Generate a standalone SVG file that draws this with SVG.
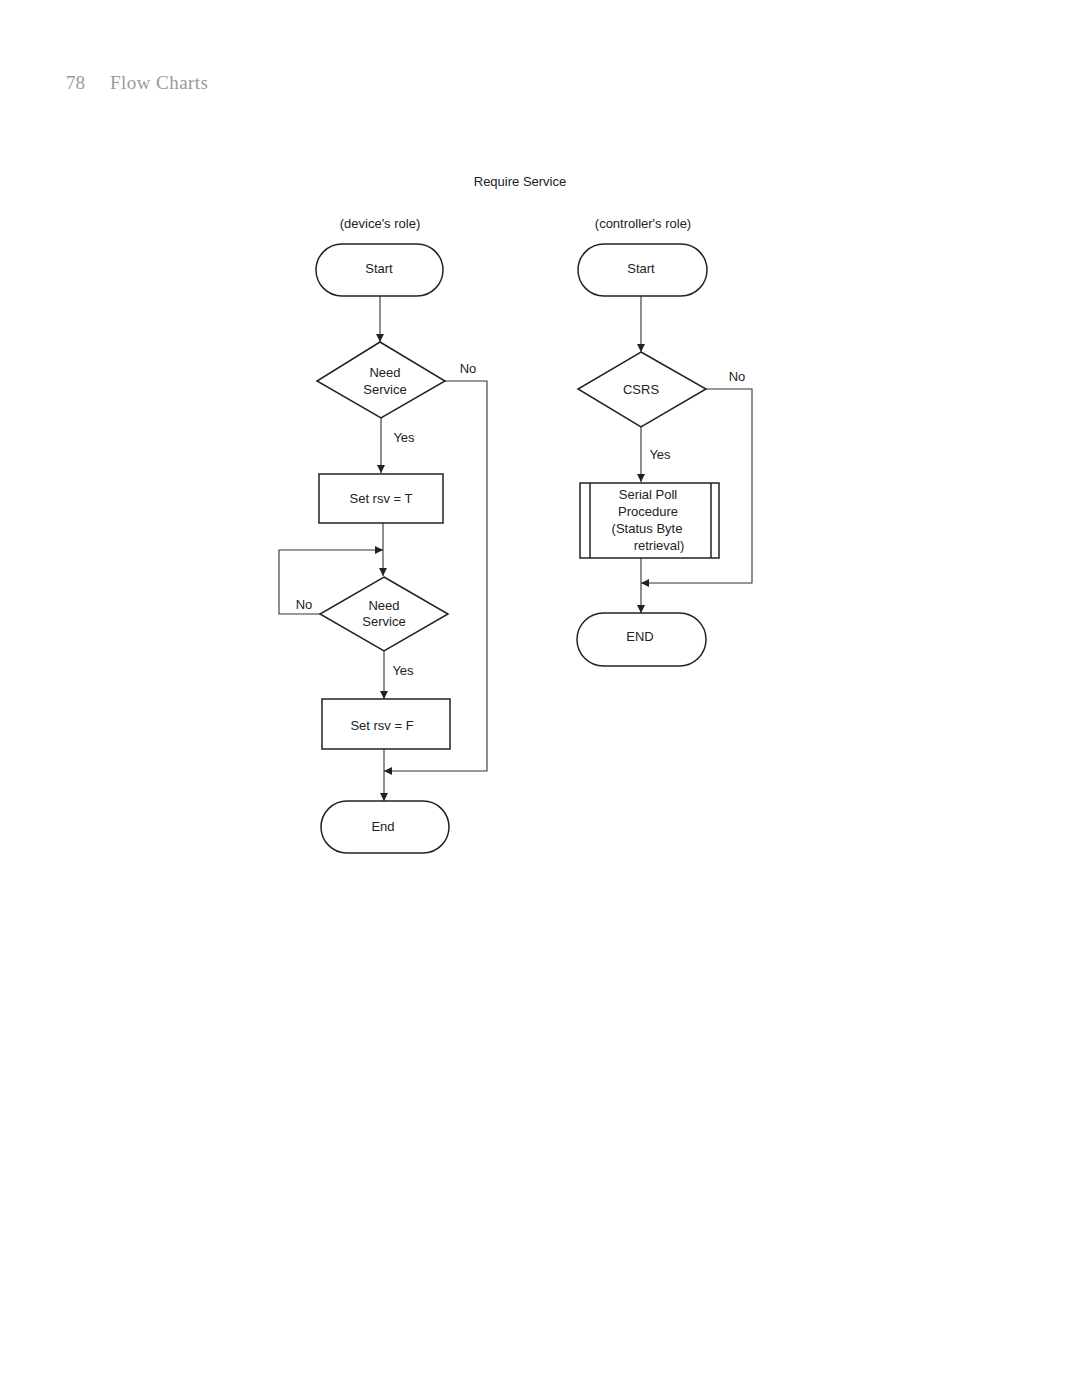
<svg xmlns="http://www.w3.org/2000/svg" width="1080" height="1399" viewBox="0 0 1080 1399">
<style>
.s{fill:#fff;stroke:#222;stroke-width:1.5}
.c{fill:none;stroke:#333;stroke-width:1.1}
text{font-family:"Liberation Sans",Arial,sans-serif;font-size:13px;fill:#222;text-anchor:middle}
.hd{font-family:"Liberation Serif","Times New Roman",serif;font-size:19px;fill:#9a9a9a;text-anchor:start}
</style>
<defs>
<marker id="a" viewBox="0 0 10 10" refX="10" refY="5" markerWidth="8" markerHeight="8" markerUnits="userSpaceOnUse" orient="auto">
<path d="M0,0 L10,5 L0,10 z" fill="#222"/>
</marker>
</defs>
<rect width="1080" height="1399" fill="#fff"/>
<text class="hd" x="66" y="89">78</text>
<text class="hd" x="110" y="89" textLength="98" lengthAdjust="spacing">Flow Charts</text>
<text x="520" y="186">Require Service</text>
<text x="380" y="228">(device's role)</text>
<text x="643" y="228">(controller's role)</text>

<g id="connectors">
<path class="c" d="M380,296 V342" marker-end="url(#a)"/>
<path class="c" d="M381,418 V473" marker-end="url(#a)"/>
<path class="c" d="M445,381 H487 V771 H384" marker-end="url(#a)"/>
<path class="c" d="M383,523 V576" marker-end="url(#a)"/>
<path class="c" d="M320,614 H279 V550 H383" marker-end="url(#a)"/>
<path class="c" d="M384,651 V699" marker-end="url(#a)"/>
<path class="c" d="M384,749 V801" marker-end="url(#a)"/>
<path class="c" d="M641,296 V352" marker-end="url(#a)"/>
<path class="c" d="M641,427 V482" marker-end="url(#a)"/>
<path class="c" d="M706,389 H752 V583 H641" marker-end="url(#a)"/>
<path class="c" d="M641,558 V613" marker-end="url(#a)"/>
<text x="468" y="373">No</text>
<text x="404" y="442">Yes</text>
<text x="304" y="609">No</text>
<text x="403" y="675">Yes</text>
<text x="737" y="381">No</text>
<text x="660" y="459">Yes</text>
</g>

<g id="start1"><rect class="s" x="316" y="244" width="127" height="52" rx="26"/><text x="379" y="273">Start</text></g>
<g id="need1"><polygon class="s" points="380,342 445,381 381,418 317,381"/><text x="385" y="377">Need</text><text x="385" y="394">Service</text></g>
<g id="setT"><rect class="s" x="319" y="474" width="124" height="49"/><text x="381" y="503">Set rsv = T</text></g>
<g id="need2"><polygon class="s" points="384,577 448,614 384,651 320,614"/><text x="384" y="610">Need</text><text x="384" y="626">Service</text></g>
<g id="setF"><rect class="s" x="322" y="699" width="128" height="50"/><text x="382" y="730">Set rsv = F</text></g>
<g id="end1"><rect class="s" x="321" y="801" width="128" height="52" rx="26"/><text x="383" y="831">End</text></g>

<g id="start2"><rect class="s" x="578" y="244" width="129" height="52" rx="26"/><text x="641" y="273">Start</text></g>
<g id="csrs"><polygon class="s" points="641,352 706,389 641,427 578,389"/><text x="641" y="394">CSRS</text></g>
<g id="poll"><rect class="s" x="580" y="483" width="139" height="75"/><line class="s" x1="590" y1="483" x2="590" y2="558"/><line class="s" x1="711" y1="483" x2="711" y2="558"/>
<text x="648" y="499">Serial Poll</text><text x="648" y="516">Procedure</text><text x="647" y="533">(Status Byte</text><text x="659" y="550">retrieval)</text></g>
<g id="end2"><rect class="s" x="577" y="613" width="129" height="53" rx="26.5"/><text x="640" y="641">END</text></g>
</svg>
